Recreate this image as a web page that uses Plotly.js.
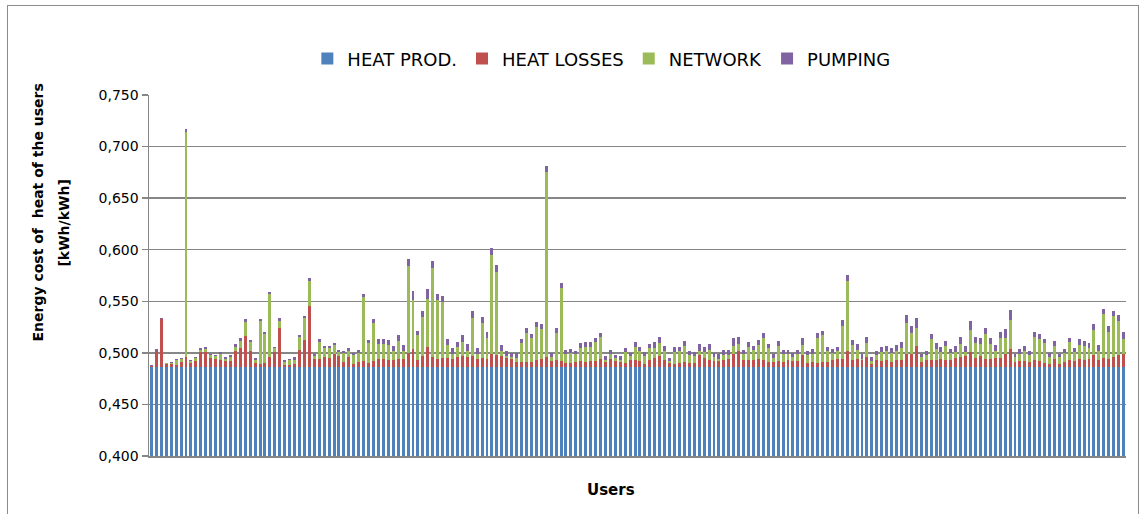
<!DOCTYPE html>
<html>
<head>
<meta charset="utf-8">
<script src="https://cdn.plot.ly/plotly-3.0.1.min.js"></script>
<style>
  html, body { margin: 0; padding: 0; background: #ffffff; }
  #frame { position: absolute; left: 7px; top: 5px; width: 1132px; height: 530px; border: 1px solid #8c8c8c; box-sizing: border-box; }
  #chart { position: absolute; left: 0; top: 0; width: 1147px; height: 514px; }
</style>
</head>
<body>
<div id="frame"></div>
<div id="chart"></div>
<script>
// ---- data (values in kWh/kWh) ----
const seriesNames = ["HEAT PROD.", "HEAT LOSSES", "NETWORK", "PUMPING"];
const yTickVals = [0.40, 0.45, 0.50, 0.55, 0.60, 0.65, 0.70, 0.75];
const yTitleLines = ["Energy cost of  heat of the users", "[kWh/kWh]"];
const xTitle = "Users";

const heatProd = [
0.4865,0.4865,0.4865,0.4865,0.4865,0.4865,0.4865,0.4865,0.4865,0.4865,
0.4865,0.4865,0.4865,0.4865,0.4865,0.4865,0.4865,0.4865,0.4865,0.4865,
0.4865,0.4865,0.4865,0.4865,0.4865,0.4865,0.4865,0.4865,0.4865,0.4865,
0.4865,0.4865,0.4865,0.4865,0.4865,0.4865,0.4865,0.4865,0.4865,0.4865,
0.4865,0.4865,0.4865,0.4865,0.4865,0.4865,0.4865,0.4865,0.4865,0.4865,
0.4865,0.4865,0.4865,0.4865,0.4865,0.4865,0.4865,0.4865,0.4865,0.4865,
0.4865,0.4865,0.4865,0.4865,0.4865,0.4865,0.4865,0.4865,0.4865,0.4865,
0.4865,0.4865,0.4865,0.4865,0.4865,0.4865,0.4865,0.4865,0.4865,0.4865,
0.4865,0.4865,0.4865,0.4865,0.4865,0.4865,0.4865,0.4865,0.4865,0.4865,
0.4865,0.4865,0.4865,0.4865,0.4865,0.4865,0.4865,0.4865,0.4865,0.4865,
0.4865,0.4865,0.4865,0.4865,0.4865,0.4865,0.4865,0.4865,0.4865,0.4865,
0.4865,0.4865,0.4865,0.4865,0.4865,0.4865,0.4865,0.4865,0.4865,0.4865,
0.4865,0.4865,0.4865,0.4865,0.4865,0.4865,0.4865,0.4865,0.4865,0.4865,
0.4865,0.4865,0.4865,0.4865,0.4865,0.4865,0.4865,0.4865,0.4865,0.4865,
0.4865,0.4865,0.4865,0.4865,0.4865,0.4865,0.4865,0.4865,0.4865,0.4865,
0.4865,0.4865,0.4865,0.4865,0.4865,0.4865,0.4865,0.4865,0.4865,0.4865,
0.4865,0.4865,0.4865,0.4865,0.4865,0.4865,0.4865,0.4865,0.4865,0.4865,
0.4865,0.4865,0.4865,0.4865,0.4865,0.4865,0.4865,0.4865,0.4865,0.4865,
0.4865,0.4865,0.4865,0.4865,0.4865,0.4865,0.4865,0.4865,0.4865,0.4865,
0.4865,0.4865,0.4865,0.4865,0.4865,0.4865,0.4865,0.4865];

// cumulative top of the HEAT LOSSES segment
const heatLossTop = [
0.4875,0.5020,0.5327,0.4895,0.4889,0.4879,0.4912,0.4961,0.4902,0.4922,
0.5010,0.5010,0.4954,0.4938,0.4935,0.4918,0.4922,0.5020,0.5046,0.5164,
0.5020,0.4902,0.4895,0.4902,0.4961,0.5010,0.5242,0.4886,0.4886,0.4895,
0.5026,0.5124,0.5451,0.4938,0.4941,0.4961,0.4951,0.4987,0.4967,0.4908,
0.4961,0.4895,0.4912,0.4918,0.4902,0.4918,0.4944,0.4938,0.4928,0.4928,
0.4938,0.4938,0.5000,0.5033,0.4928,0.4967,0.5059,0.4961,0.4938,0.4951,
0.4954,0.4944,0.4957,0.4967,0.4961,0.4974,0.4941,0.4951,0.4944,0.4990,
0.4980,0.4974,0.4954,0.4944,0.4912,0.4912,0.4912,0.4912,0.4928,0.4941,
0.4961,0.4918,0.4928,0.4922,0.4902,0.4902,0.4912,0.4918,0.4912,0.4918,
0.4922,0.4941,0.4912,0.4938,0.4922,0.4912,0.4905,0.4935,0.4928,0.4922,
0.4895,0.4935,0.4948,0.4967,0.4928,0.4902,0.4895,0.4902,0.4908,0.4902,
0.4902,0.4977,0.4948,0.4935,0.4918,0.4918,0.4935,0.4941,0.4993,0.5016,
0.4928,0.4928,0.4935,0.4941,0.4935,0.4912,0.4912,0.4918,0.4912,0.4935,
0.4918,0.4922,0.4977,0.4902,0.4912,0.4902,0.4912,0.4912,0.4935,0.4941,
0.4941,0.5016,0.4928,0.4944,0.4928,0.4961,0.4895,0.4928,0.4922,0.4928,
0.4912,0.4928,0.4935,0.4987,0.4993,0.5065,0.4912,0.4928,0.4928,0.4935,
0.4938,0.4935,0.4935,0.4954,0.4961,0.4974,0.5010,0.4954,0.4967,0.4941,
0.4941,0.4951,0.4954,0.4993,0.5036,0.4912,0.4922,0.4922,0.4912,0.4928,
0.4922,0.4902,0.4895,0.4938,0.4895,0.4912,0.4928,0.4922,0.4944,0.4928,
0.4938,0.4977,0.4928,0.4954,0.4941,0.4961,0.4977,0.4987];

// cumulative top of the NETWORK segment
const networkTop = [
0.4876,0.5022,0.5328,0.4897,0.4902,0.4928,0.4938,0.7140,0.4918,0.4948,
0.5026,0.5036,0.4977,0.4967,0.4993,0.4941,0.4961,0.5059,0.5118,0.5301,
0.5105,0.4928,0.5311,0.5180,0.5566,0.5043,0.5311,0.4912,0.4928,0.4935,
0.5150,0.5334,0.5700,0.4971,0.5108,0.5043,0.5043,0.5072,0.5010,0.5000,
0.5020,0.4984,0.5003,0.5543,0.5098,0.5288,0.5082,0.5082,0.5075,0.5020,
0.5118,0.5016,0.5840,0.5510,0.5173,0.5343,0.5527,0.5827,0.5517,0.5490,
0.5075,0.4993,0.5052,0.5108,0.5020,0.5337,0.4993,0.5294,0.5141,0.5946,
0.5785,0.5016,0.4967,0.4961,0.4954,0.5092,0.5196,0.5141,0.5249,0.5229,
0.6750,0.4961,0.5196,0.5633,0.4993,0.5000,0.4987,0.5043,0.5052,0.5059,
0.5108,0.5157,0.4928,0.4987,0.4951,0.4928,0.5007,0.4967,0.5059,0.5020,
0.4967,0.5043,0.5049,0.5092,0.5016,0.4918,0.5010,0.5016,0.5069,0.4984,
0.4971,0.5016,0.5010,0.5026,0.4961,0.4944,0.4977,0.4977,0.5069,0.5085,
0.4993,0.5052,0.5026,0.5075,0.5141,0.5043,0.4954,0.5065,0.4987,0.4987,
0.4961,0.4987,0.5075,0.4977,0.4993,0.5147,0.5173,0.5016,0.5000,0.5016,
0.5262,0.5700,0.5075,0.5026,0.4944,0.5092,0.4922,0.4977,0.5010,0.5020,
0.5000,0.5020,0.5043,0.5294,0.5190,0.5239,0.4961,0.4977,0.5131,0.5036,
0.5010,0.5065,0.5000,0.5010,0.5085,0.5010,0.5222,0.5092,0.5085,0.5183,
0.5085,0.5016,0.5141,0.5141,0.5320,0.4961,0.4987,0.5016,0.4977,0.5150,
0.5137,0.5098,0.4961,0.5069,0.4961,0.5000,0.5101,0.5010,0.5075,0.5069,
0.5043,0.5222,0.5016,0.5376,0.5206,0.5353,0.5311,0.5134];

// total energy cost of heat (top of the PUMPING segment)
const totalTop = [
0.4880,0.5036,0.5340,0.4902,0.4912,0.4941,0.4951,0.7168,0.4935,0.4964,
0.5046,0.5056,0.4993,0.4984,0.5013,0.4961,0.4980,0.5082,0.5144,0.5324,
0.5124,0.4948,0.5330,0.5199,0.5589,0.5059,0.5337,0.4928,0.4944,0.4957,
0.5173,0.5353,0.5724,0.4990,0.5131,0.5065,0.5065,0.5095,0.5029,0.5020,
0.5046,0.5003,0.5026,0.5572,0.5124,0.5324,0.5134,0.5134,0.5124,0.5065,
0.5170,0.5075,0.5914,0.5598,0.5216,0.5409,0.5620,0.5888,0.5575,0.5550,
0.5134,0.5046,0.5105,0.5173,0.5085,0.5402,0.5046,0.5350,0.5206,0.6020,
0.5853,0.5072,0.5020,0.5003,0.5003,0.5134,0.5239,0.5183,0.5298,0.5281,
0.6810,0.5000,0.5245,0.5678,0.5026,0.5033,0.5020,0.5098,0.5101,0.5101,
0.5147,0.5196,0.4967,0.5026,0.4984,0.4967,0.5046,0.5003,0.5108,0.5059,
0.5010,0.5085,0.5105,0.5150,0.5065,0.4948,0.5059,0.5059,0.5111,0.5020,
0.5010,0.5085,0.5059,0.5085,0.5000,0.4993,0.5023,0.5023,0.5144,0.5157,
0.5026,0.5105,0.5069,0.5128,0.5190,0.5085,0.4987,0.5114,0.5026,0.5026,
0.5000,0.5026,0.5141,0.5020,0.5033,0.5190,0.5216,0.5059,0.5033,0.5059,
0.5320,0.5755,0.5124,0.5082,0.4987,0.5150,0.4961,0.5016,0.5052,0.5065,
0.5043,0.5072,0.5105,0.5370,0.5262,0.5337,0.4993,0.5020,0.5183,0.5092,
0.5059,0.5118,0.5039,0.5065,0.5150,0.5069,0.5307,0.5150,0.5147,0.5245,
0.5147,0.5075,0.5206,0.5229,0.5412,0.4993,0.5033,0.5065,0.5020,0.5199,
0.5183,0.5134,0.5000,0.5114,0.4993,0.5039,0.5141,0.5049,0.5131,0.5114,
0.5092,0.5281,0.5072,0.5428,0.5262,0.5409,0.5370,0.5199];

// user index categories (1..N)
const users = heatProd.map((_, i) => i + 1);

// segment heights derived from the cumulative tops
const heatLosses = heatLossTop.map((v, i) => Math.max(0, v - heatProd[i]));
const network = networkTop.map((v, i) => Math.max(0, v - heatLossTop[i]));
const pumping = totalTop.map((v, i) => Math.max(0, v - networkTop[i]));

const colors = ["#4F81BD", "#C0504D", "#9BBB59", "#8064A2"];
const segs = [heatProd, heatLosses, network, pumping];

const traces = segs.map((vals, k) => ({
  type: "bar",
  name: seriesNames[k],
  x: users,
  y: vals,
  marker: { color: colors[k], line: { width: 0 } },
  hoverinfo: "skip"
}));

const font = "DejaVu Sans, Liberation Sans, sans-serif";
const titleFont = { family: font, size: 14, color: "#000000", weight: "bold" };

const layout = {
  width: 1147,
  height: 514,
  barmode: "stack",
  bargap: 0.4,
  separators: ",.",
  paper_bgcolor: "rgba(0,0,0,0)",
  plot_bgcolor: "rgba(0,0,0,0)",
  margin: { l: 149, r: 21, t: 95, b: 58, pad: 0 },
  font: { family: font, color: "#000000" },
  showlegend: true,
  legend: {
    orientation: "h",
    x: 0.463, xanchor: "center",
    y: 1.10, yanchor: "middle",
    font: { family: font, size: 18, color: "#000000" },
    traceorder: "normal",
    itemwidth: 30,
    itemclick: false
  },
  xaxis: {
    type: "category",
    showticklabels: false,
    ticks: "",
    showgrid: false,
    showline: true,
    linecolor: "#868686",
    linewidth: 1.5,
    zeroline: false
  },
  yaxis: {
    range: [0.4, 0.75],
    tickvals: yTickVals,
    tickformat: ".3f",
    ticks: "outside",
    ticklen: 6,
    tickcolor: "#868686",
    tickwidth: 1.5,
    showline: true,
    linecolor: "#868686",
    linewidth: 1.5,
    showgrid: true,
    gridcolor: "#868686",
    gridwidth: 1.5,
    zeroline: false,
    tickfont: { family: font, size: 14, color: "#000000" }
  },
  annotations: [
    { text: yTitleLines[0], xref: "paper", yref: "paper", x: -0.1146, y: 0.6745,
      xanchor: "center", yanchor: "middle", textangle: -90, showarrow: false, font: titleFont },
    { text: yTitleLines[1], xref: "paper", yref: "paper", x: -0.0880, y: 0.644,
      xanchor: "center", yanchor: "middle", textangle: -90, showarrow: false, font: titleFont },
    { text: xTitle, xref: "paper", yref: "paper", x: 0.473, y: -0.094,
      xanchor: "center", yanchor: "middle", showarrow: false,
      font: { family: font, size: 15, color: "#000000", weight: "bold" } }
  ]
};

Plotly.newPlot("chart", traces, layout, { staticPlot: true, displayModeBar: false });
</script>
</body>
</html>
